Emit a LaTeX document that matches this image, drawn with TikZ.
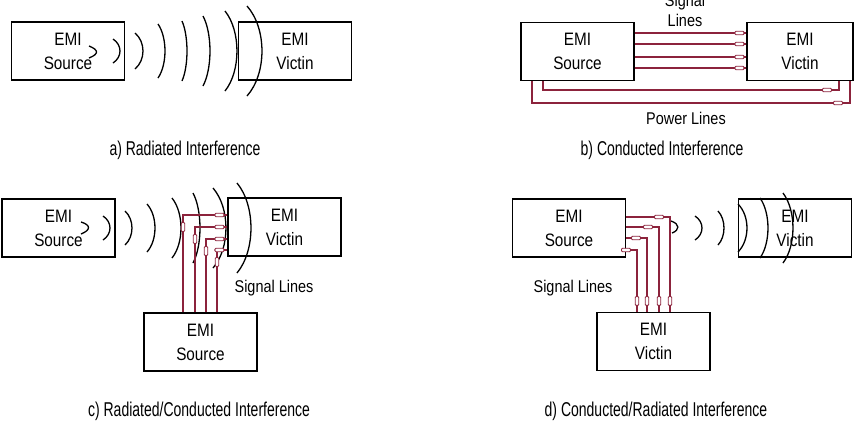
\documentclass[tikz,border=0pt]{standalone}
\usepackage{fontspec}
\setmainfont{Liberation Sans}
\newfontfamily\boxfont[FakeStretch=0.85]{Liberation Sans}
\newfontfamily\capfont[FakeStretch=0.7]{Liberation Sans}
\definecolor{wirered}{RGB}{140,35,60}

\begin{document}
\begin{tikzpicture}[x=1pt, y=-1pt,
        box/.style={draw, line width=1.2pt, minimum width=113pt, minimum height=58pt, inner sep=0pt, align=center, font=\boxfont\fontsize{18}{24}\selectfont},
        tag/.style={align=center, font=\boxfont\fontsize{17}{20}\selectfont},
        caption/.style={font=\capfont\fontsize{20}{22}\selectfont},
        wave/.style={line width=1.3pt},
        wire/.style={draw=wirered, line width=1.2pt},
        plug/.style={draw=wirered, fill=white, line width=0.9pt, rounded corners=1pt, minimum width=9pt, minimum height=3.5pt, inner sep=0pt}
    ]
        \useasboundingbox (0,0) rectangle (855,432);

        % a) radiated
        \node[box] (asrc) at (68,51) {EMI\\Source};
        \node[box] (avic) at (295,51) {EMI\\Victin};
        \draw[wave] (89,46) .. controls (99,50) and (99,54) .. (89,58);
        \foreach \x/\h/\b in {113/12/7, 135/18/8, 158/27/7, 182/30/5, 203/35/7, 225/40/12, 247/45/15}
            \draw[wave] ({\x},{51-\h}) .. controls ({\x+1.33*\b},{51-\h/2}) and ({\x+1.33*\b},{51+\h/2}) .. ({\x},{51+\h});
        \node[caption] (acap) at (185,150) {a) Radiated Interference};

        % b) conducted
        \node[box] (bsrc) at (577.5,51.5) {EMI\\Source};
        \node[box, minimum width=106pt] (bvic) at (800,51.5) {EMI\\Victin};
        \node[tag] (bsig) at (685,10) {Signal\\Lines};
        \foreach \y [count=\i] in {33,44,57,68}
            \draw[wire] (bsrc.east |- 0,\y) -- ([xshift=-7pt]bvic.west |- 0,\y) node[plug] (bp\i) {} -- (bvic.west |- 0,\y);
        \draw[wire] (bsrc.south -| 543,0) -- (543,90) -- (827,90) node[plug] (bq1) {} -- (839,90) -- (bvic.south -| 839,0);
        \draw[wire] (bsrc.south -| 532,0) -- (532,103) -- (838,103) node[plug] (bq2) {} -- (850,103) -- (bvic.south -| 850,0);
        \node[tag] (bpow) at (686,118) {Power Lines};
        \node[caption] (bcap) at (662,150) {b) Conducted Interference};

        % c) radiated/conducted
        \node[box] (csrc) at (58.5,228) {EMI\\Source};
        \node[box] (cvic) at (284.5,227) {EMI\\Victin};
        \node[box] (csrc2) at (200.5,342) {EMI\\Source};
        \draw[wave] (81,222) .. controls (91,225) and (91,230) .. (81,234);
        \foreach \x/\h/\b in {103/12/7, 125/17/7, 147/24/8, 172/30/9, 193/35/7, 213/40/13, 237/45/14}
            \draw[wave] ({\x},{228-\h}) .. controls ({\x+1.33*\b},{228-\h/2}) and ({\x+1.33*\b},{228+\h/2}) .. ({\x},{228+\h});
        \foreach \x/\y [count=\i] in {183/215, 195/227, 206/239, 217/250}
            \draw[wire] (csrc2.north -| \x,0) -- ({\x},{\y+12}) node[plug, rotate=90] (cv\i) {} -- (\x,\y)
                -- ([xshift=-8pt]cvic.west |- 0,\y) node[plug] (ch\i) {} -- (cvic.west |- 0,\y);
        \node[tag] (csig) at (274,288) {Signal Lines};
        \node[caption] (ccap) at (199,411) {c) Radiated/Conducted Interference};

        % d) conducted/radiated
        \node[box] (dsrc) at (569,228) {EMI\\Source};
        \node[box] (dvic) at (795,228) {EMI\\Victin};
        \node[box] (dvic2) at (653.5,341.5) {EMI\\Victin};
        \draw[wave] (671,221) .. controls (680,224) and (680,230) .. (672,233);
        \foreach \x/\h/\b in {695/12/7, 718/17/6, 738/24/9, 760/30/8, 783/35/10}
            \draw[wave] ({\x},{228-\h}) .. controls ({\x+1.33*\b},{228-\h/2}) and ({\x+1.33*\b},{228+\h/2}) .. ({\x},{228+\h});
        \foreach \x/\y [count=\i] in {670/217, 659/227, 647/238, 637/250}
            \draw[wire] (dsrc.east |- 0,\y) -- ({\x-11},\y) node[plug] (dh\i) {} -- (\x,\y)
                -- ([yshift=11pt]dvic2.north -| \x,0) node[plug, rotate=90] (dv\i) {} -- (dvic2.north -| \x,0);
        \node[tag] (dsig) at (573,288) {Signal Lines};
        \node[caption] (dcap) at (656,411) {d) Conducted/Radiated Interference};
    \end{tikzpicture}
\end{document}
